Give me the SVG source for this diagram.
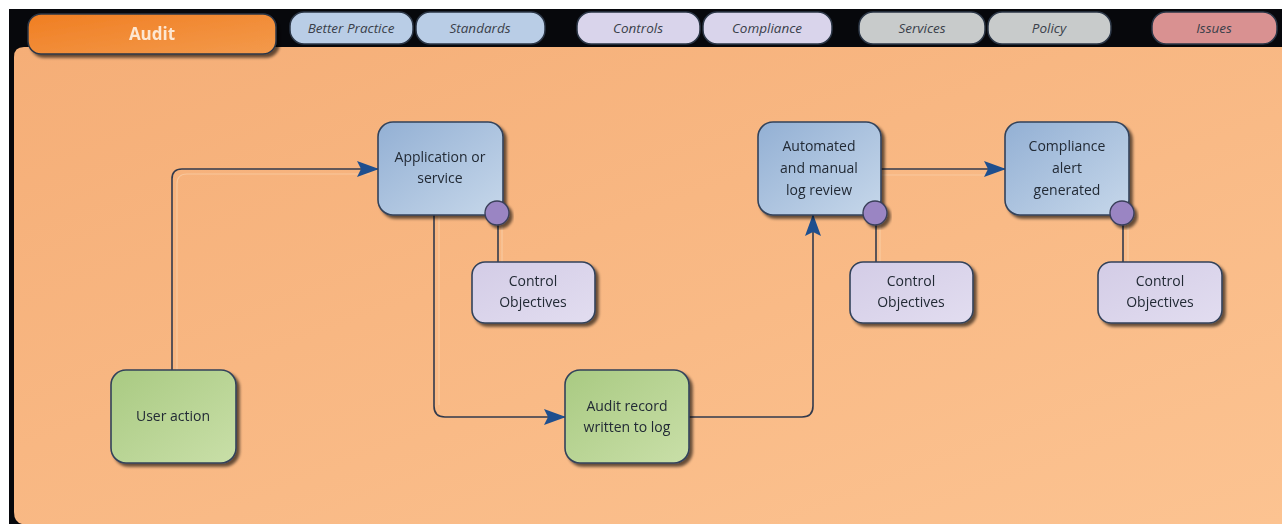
<svg xmlns="http://www.w3.org/2000/svg" width="1282" height="524" viewBox="0 0 1282 524">
  <defs>
    <linearGradient id="panelGrad" x1="0" y1="0" x2="1" y2="1">
      <stop offset="0" stop-color="#f5ae77"/>
      <stop offset="1" stop-color="#fcc391"/>
    </linearGradient>
    <linearGradient id="auditTab" x1="0" y1="0" x2="1" y2="1">
      <stop offset="0" stop-color="#f07e22"/>
      <stop offset="1" stop-color="#f39a4c"/>
    </linearGradient>
    <linearGradient id="blueNode" x1="0" y1="0" x2="1" y2="1">
      <stop offset="0" stop-color="#93b0d4"/>
      <stop offset="1" stop-color="#c6d7ea"/>
    </linearGradient>
    <linearGradient id="greenNode" x1="0" y1="0" x2="1" y2="1">
      <stop offset="0" stop-color="#a9ca82"/>
      <stop offset="1" stop-color="#c9dfa8"/>
    </linearGradient>
    <linearGradient id="lilacNode" x1="0" y1="0" x2="1" y2="1">
      <stop offset="0" stop-color="#d3cce6"/>
      <stop offset="1" stop-color="#e2ddf0"/>
    </linearGradient>
    <filter id="shadow" x="-10%" y="-10%" width="130%" height="130%">
      <feGaussianBlur in="SourceAlpha" stdDeviation="1.5"/>
      <feOffset dx="3" dy="3" result="b"/>
      <feComponentTransfer><feFuncA type="linear" slope="0.6"/></feComponentTransfer>
      <feMerge><feMergeNode/><feMergeNode in="SourceGraphic"/></feMerge>
    </filter>
    <marker id="arrow" viewBox="0 0 22 16" refX="21" refY="8" markerWidth="22" markerHeight="16" markerUnits="userSpaceOnUse" orient="auto">
      <path d="M0,0 L22,8 L0,16 L4,8 Z" fill="#1f4f8e"/>
    </marker>
    <style>
      .tab { stroke: #2b3646; stroke-width: 1.5; }
      .tabText { font-family: "Open Sans", "Liberation Sans", sans-serif; font-style: italic; font-size: 13.5px; fill: #3a3f4a; text-anchor: middle; }
      .node { stroke: #33425a; stroke-width: 1.6; }
      .label { font-family: "Open Sans", "Liberation Sans", sans-serif; font-size: 14px; fill: #222a35; text-anchor: middle; }
      .wire { fill: none; stroke: #323a4c; stroke-width: 1.6; }
      .glint { fill: none; stroke: #fad9b8; stroke-width: 1.2; opacity: 0.55; }
      .knob { fill: #9a85c3; stroke: #3a3f5a; stroke-width: 1.4; }
    </style>
  </defs>

  <!-- page background and dark header band -->
  <rect x="0" y="0" width="1282" height="524" fill="#ffffff"/>
  <rect x="9" y="9" width="1273" height="515" fill="#07080c"/>

  <!-- main orange working area -->
  <path d="M24,47 L1282,47 L1282,524 L14,524 L14,57 Q14,47 24,47 Z" fill="url(#panelGrad)"/>
  <path d="M14,512 Q14,522 22,524 L14,524 Z" fill="#07080c"/>

  <!-- tab strip -->
  <g id="tab-audit" filter="url(#shadow)">
    <rect x="28" y="14" width="248" height="40" rx="13" fill="url(#auditTab)" class="tab"/>
    <text x="152" y="40" font-family="Open Sans, Liberation Sans, sans-serif" font-weight="bold" font-size="17" fill="#fde7d2" text-anchor="middle">Audit</text>
  </g>
  <g id="tab-better-practice">
    <rect x="290" y="12" width="123" height="32" rx="14" fill="#b9cde6" class="tab"/>
    <text x="351" y="33" class="tabText">Better Practice</text>
  </g>
  <g id="tab-standards">
    <rect x="416" y="12" width="129" height="32" rx="14" fill="#b9cde6" class="tab"/>
    <text x="480" y="33" class="tabText">Standards</text>
  </g>
  <g id="tab-controls">
    <rect x="577" y="12" width="123" height="32" rx="14" fill="#d9d4eb" class="tab"/>
    <text x="638" y="33" class="tabText">Controls</text>
  </g>
  <g id="tab-compliance">
    <rect x="703" y="12" width="129" height="32" rx="14" fill="#d9d4eb" class="tab"/>
    <text x="767" y="33" class="tabText">Compliance</text>
  </g>
  <g id="tab-services">
    <rect x="859" y="12" width="126" height="32" rx="14" fill="#c8cbcb" class="tab"/>
    <text x="922" y="33" class="tabText">Services</text>
  </g>
  <g id="tab-policy">
    <rect x="988" y="12" width="123" height="32" rx="14" fill="#c8cbcb" class="tab"/>
    <text x="1049" y="33" class="tabText">Policy</text>
  </g>
  <g id="tab-issues">
    <rect x="1152" y="12" width="125" height="32" rx="14" fill="#d99191" class="tab"/>
    <text x="1214" y="33" class="tabText">Issues</text>
  </g>

  <!-- connectors -->
  <g id="connectors">
    <!-- highlight strokes -->
    <path class="glint" d="M177,370 L177,184 Q177,174 187,174 L370,174"/>
    <path class="glint" d="M439,216 L439,405"/>
    <path class="glint" d="M502,226 L502,262"/>
    <path class="glint" d="M880,225 L880,262"/>
    <path class="glint" d="M1128,225 L1128,262"/>
    <path class="glint" d="M881,175 L988,175"/>
    <!-- main strokes -->
    <path class="wire" d="M172,370 L172,179 Q172,169 182,169 L378,169" marker-end="url(#arrow)"/>
    <path class="wire" d="M434,215 L434,406 Q434,417 445,417 L565,417" marker-end="url(#arrow)"/>
    <path class="wire" d="M689,417 L802,417 Q813,417 813,406 L813,215" marker-end="url(#arrow)"/>
    <path class="wire" d="M881,169 L1005,169" marker-end="url(#arrow)"/>
    <path class="wire" d="M498,224 L498,262"/>
    <path class="wire" d="M876,224 L876,262"/>
    <path class="wire" d="M1123,224 L1123,262"/>
  </g>

  <!-- process nodes -->
  <g id="node-user-action" filter="url(#shadow)">
    <rect x="111" y="370" width="125" height="93" rx="15" fill="url(#greenNode)" class="node"/>
    <text x="173" y="421" class="label">User action</text>
  </g>
  <g id="node-application" filter="url(#shadow)">
    <rect x="378" y="122" width="125" height="93" rx="15" fill="url(#blueNode)" class="node"/>
    <text x="440" y="162" class="label">Application or</text>
    <text x="440" y="183" class="label">service</text>
  </g>
  <g id="node-audit-record" filter="url(#shadow)">
    <rect x="565" y="370" width="124" height="93" rx="15" fill="url(#greenNode)" class="node"/>
    <text x="627" y="411" class="label">Audit record</text>
    <text x="627" y="432" class="label">written to log</text>
  </g>
  <g id="node-log-review" filter="url(#shadow)">
    <rect x="758" y="122" width="123" height="93" rx="15" fill="url(#blueNode)" class="node"/>
    <text x="819" y="151" class="label">Automated</text>
    <text x="819" y="173" class="label">and manual</text>
    <text x="819" y="195" class="label">log review</text>
  </g>
  <g id="node-compliance-alert" filter="url(#shadow)">
    <rect x="1005" y="122" width="124" height="93" rx="15" fill="url(#blueNode)" class="node"/>
    <text x="1067" y="151" class="label">Compliance</text>
    <text x="1067" y="173" class="label">alert</text>
    <text x="1067" y="195" class="label">generated</text>
  </g>

  <!-- control attachment points -->
  <g id="knob-application" filter="url(#shadow)">
    <circle cx="497" cy="213" r="12" class="knob"/>
  </g>
  <g id="knob-log-review" filter="url(#shadow)">
    <circle cx="875" cy="213" r="12" class="knob"/>
  </g>
  <g id="knob-compliance-alert" filter="url(#shadow)">
    <circle cx="1122" cy="213" r="12" class="knob"/>
  </g>

  <!-- control objective nodes -->
  <g id="node-control-objectives-1" filter="url(#shadow)">
    <rect x="472" y="262" width="123" height="61" rx="13" fill="url(#lilacNode)" class="node"/>
    <text x="533" y="286" class="label">Control</text>
    <text x="533" y="307" class="label">Objectives</text>
  </g>
  <g id="node-control-objectives-2" filter="url(#shadow)">
    <rect x="850" y="262" width="123" height="61" rx="13" fill="url(#lilacNode)" class="node"/>
    <text x="911" y="286" class="label">Control</text>
    <text x="911" y="307" class="label">Objectives</text>
  </g>
  <g id="node-control-objectives-3" filter="url(#shadow)">
    <rect x="1098" y="262" width="124" height="61" rx="13" fill="url(#lilacNode)" class="node"/>
    <text x="1160" y="286" class="label">Control</text>
    <text x="1160" y="307" class="label">Objectives</text>
  </g>
</svg>
